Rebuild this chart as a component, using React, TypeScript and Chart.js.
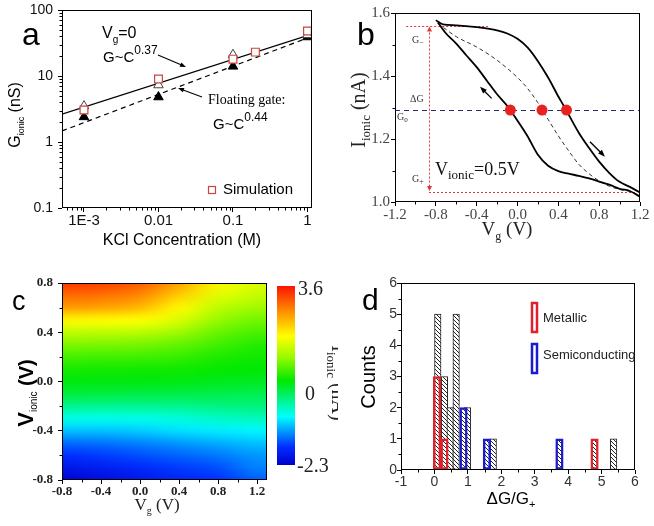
import React, { useEffect, useRef } from "react";
import { Chart, registerables } from "chart.js";
Chart.register(...registerables);

const SANS = '"Liberation Sans", Arial, Helvetica, sans-serif';
const SERIF = '"Liberation Serif", "Times New Roman", Times, serif';

// ---------------- Panel a : G_ionic vs KCl concentration ----------------
const concTicks = [0.001, 0.01, 0.1, 1];
const concTickLabels = ["1E-3", "0.01", "0.1", "1"];
const gTicks = [0.1, 1, 10, 100];
const gTickLabels = ["0.1", "1", "10", "100"];
const concMeasured = [0.001, 0.01, 0.1, 1];
const gVg0 = [3.5, 7.3, 21, 42];
const gFloatingGate = [2.4, 4.8, 14, 39];
const concSimulation = [0.001, 0.01, 0.1, 0.2, 1];
const gSimulation = [3.05, 9.0, 18, 23, 48];
const concFit = [0.000507, 1.15];
const gFitVg0 = [2.65, 43];
const gFitFloating = [1.47, 40];

// ---------------- Panel b : I_ionic vs Vg hysteresis ----------------
const vgTicksB = [-1.2, -0.8, -0.4, 0, 0.4, 0.8, 1.2];
const vgTickLabelsB = ["-1.2", "-0.8", "-0.4", "0.0", "0.4", "0.8", "1.2"];
const iTicksB = [1.0, 1.2, 1.4, 1.6];
const iTickLabelsB = ["1.0", "1.2", "1.4", "1.6"];
const vgForward = [-0.8, -0.73, -0.6, -0.4, -0.2, -0.1, 0.0, 0.1, 0.2, 0.3, 0.4, 0.45, 0.5, 0.6, 0.7, 0.8, 0.9, 1.0, 1.1, 1.2];
const iForward = [1.577, 1.564, 1.561, 1.555, 1.545, 1.535, 1.518, 1.49, 1.447, 1.395, 1.335, 1.307, 1.278, 1.22, 1.172, 1.128, 1.092, 1.064, 1.048, 1.03];
const vgBackward = [-0.78, -0.7, -0.6, -0.5, -0.4, -0.3, -0.2, -0.1, 0.0, 0.1, 0.2, 0.3, 0.4, 0.5, 0.6, 0.7, 0.8, 0.9, 1.0, 1.1, 1.2];
const iBackward = [1.57, 1.535, 1.503, 1.465, 1.428, 1.385, 1.342, 1.305, 1.258, 1.208, 1.15, 1.115, 1.098, 1.09, 1.083, 1.075, 1.065, 1.055, 1.042, 1.035, 1.017];
const vgMean = [-0.78, -0.6, -0.4, -0.2, 0.0, 0.1, 0.2, 0.3, 0.4, 0.5, 0.6, 0.7, 0.8, 0.9, 1.0, 1.1];
const iMean = [1.567, 1.525, 1.492, 1.45, 1.395, 1.36, 1.315, 1.262, 1.21, 1.163, 1.12, 1.09, 1.067, 1.05, 1.04, 1.034];
const vgCrossings = [-0.07, 0.24, 0.48];
const iG0 = 1.292;
const iGminus = 1.56;
const iGplus = 1.032;
const vgMarker = -0.867;
const gMinusSpan = [-1.09, -0.29];
const gPlusSpan = [-0.867, 1.17];
const arrowBack = [[-0.253, 1.329], [-0.367, 1.366]];
const arrowFwd = [[0.71, 1.191], [0.857, 1.144]];

// ---------------- Panel c : I_ionic map ----------------
const vgTicksC = [-0.8, -0.4, 0, 0.4, 0.8, 1.2];
const vgTickLabelsC = ["-0.8", "-0.4", "0.0", "0.4", "0.8", "1.2"];
const vionicTicks = [-0.8, -0.4, 0, 0.4, 0.8];
const vionicTickLabels = ["-0.8", "-0.4", "0.0", "0.4", "0.8"];
const vgGrid = [-0.8, -0.4, 0.0, 0.4, 0.8, 1.2];
const vionicGrid = [0.8, 0.7, 0.6, 0.5, 0.4, 0.3, 0.2, 0.1, 0.0, -0.1, -0.2, -0.3, -0.4, -0.5, -0.6, -0.7, -0.8];
const ionicCurrent = [
  [3.36, 3.3, 3.1, 2.6, 2.0, 1.7],
  [3.01, 2.95, 2.8, 2.3, 1.75, 1.55],
  [2.66, 2.6, 2.45, 2.0, 1.5, 1.3],
  [2.01, 1.98, 1.95, 1.7, 1.25, 1.05],
  [1.54, 1.5, 1.48, 1.3, 1.0, 0.85],
  [1.12, 1.1, 1.08, 0.98, 0.8, 0.65],
  [0.83, 0.8, 0.8, 0.75, 0.62, 0.55],
  [0.59, 0.57, 0.56, 0.55, 0.5, 0.45],
  [0.41, 0.4, 0.4, 0.38, 0.35, 0.32],
  [0.18, 0.17, 0.15, 0.15, 0.12, 0.1],
  [-0.18, -0.2, -0.2, -0.18, -0.12, -0.1],
  [-0.59, -0.62, -0.6, -0.55, -0.45, -0.4],
  [-1.0, -1.0, -0.95, -0.85, -0.8, -0.75],
  [-1.42, -1.38, -1.3, -1.2, -1.1, -1.0],
  [-1.71, -1.65, -1.55, -1.45, -1.35, -1.2],
  [-2.0, -1.9, -1.78, -1.65, -1.55, -1.3],
  [-2.24, -2.1, -1.95, -1.8, -1.7, -1.45],
];
const cbarMin = -2.3;
const cbarMax = 3.6;
const cbarLabels = ["3.6", "0", "-2.3"];

// ---------------- Panel d : histogram ----------------
const ratioTicks = [-1, 0, 1, 2, 3, 4, 5, 6];
const countTicks = [0, 1, 2, 3, 4, 5, 6];
const allRatio = [0.1, 0.3, 0.47, 0.65, 0.99, 1.76, 5.36];
const allCounts = [5, 3, 2, 5, 2, 1, 1];
const metallicRatio = [0.08, 0.3, 4.79];
const metallicCounts = [3, 1, 1];
const semiRatio = [0.87, 1.57, 3.74];
const semiCounts = [2, 1, 1];

// ---------------- helpers ----------------
const CMAP: number[][] = [
  [0, 0, 0, 205],
  [0.1, 0, 45, 255],
  [0.27, 0, 255, 255],
  [0.47, 0, 232, 0],
  [0.6, 150, 250, 0],
  [0.72, 255, 255, 0],
  [0.86, 255, 140, 0],
  [1, 250, 20, 0],
];
function cmap(f: number): number[] {
  f = Math.max(0, Math.min(1, f));
  for (let i = 1; i < CMAP.length; i++) {
    if (f <= CMAP[i][0]) {
      const a = CMAP[i - 1], b = CMAP[i];
      const t = (f - a[0]) / (b[0] - a[0]);
      return [a[1] + (b[1] - a[1]) * t, a[2] + (b[2] - a[2]) * t, a[3] + (b[3] - a[3]) * t];
    }
  }
  return CMAP[CMAP.length - 1].slice(1);
}

type Run = { t: string; s: number; dy?: number; w?: string };
function rich(ctx: any, x: number, y: number, runs: Run[], fam: string, align = "left", color = "#000") {
  const font = (r: Run) => `${r.w || "normal"} ${r.s}px ${fam}`;
  let total = 0;
  for (const r of runs) { ctx.font = font(r); total += ctx.measureText(r.t).width; }
  let cx = align === "center" ? x - total / 2 : align === "right" ? x - total : x;
  ctx.save();
  ctx.fillStyle = color; ctx.textAlign = "left"; ctx.textBaseline = "alphabetic";
  for (const r of runs) { ctx.font = font(r); ctx.fillText(r.t, cx, y + (r.dy || 0)); cx += ctx.measureText(r.t).width; }
  ctx.restore();
}
function richRot(ctx: any, x: number, y: number, ang: number, runs: Run[], fam: string, color = "#000") {
  ctx.save(); ctx.translate(x, y); ctx.rotate(ang); rich(ctx, 0, 0, runs, fam, "center", color); ctx.restore();
}
function arrow(ctx: any, x1: number, y1: number, x2: number, y2: number, head = 7, color = "#000", lw = 1.1) {
  const ang = Math.atan2(y2 - y1, x2 - x1);
  const c = Math.cos(ang), s = Math.sin(ang);
  ctx.save();
  ctx.strokeStyle = color; ctx.fillStyle = color; ctx.lineWidth = lw; ctx.setLineDash([]);
  ctx.beginPath(); ctx.moveTo(x1, y1); ctx.lineTo(x2 - c * head * 0.8, y2 - s * head * 0.8); ctx.stroke();
  ctx.beginPath(); ctx.moveTo(x2, y2);
  ctx.lineTo(x2 - head * c + head * 0.38 * s, y2 - head * s - head * 0.38 * c);
  ctx.lineTo(x2 - head * c - head * 0.38 * s, y2 - head * s + head * 0.38 * c);
  ctx.closePath(); ctx.fill();
  ctx.restore();
}
function frame(ctx: any, a: any) {
  ctx.save(); ctx.strokeStyle = "#000"; ctx.lineWidth = 1; ctx.setLineDash([]);
  ctx.strokeRect(Math.round(a.left) + 0.5, Math.round(a.top) + 0.5, Math.round(a.right - a.left) - 1, Math.round(a.bottom - a.top) - 1);
  ctx.restore();
}
function minorTicks(chart: any, axis: string, values: number[], len = 2.5) {
  const ctx = chart.ctx, a = chart.chartArea, s = chart.scales[axis];
  ctx.save(); ctx.strokeStyle = "#000"; ctx.lineWidth = 1; ctx.beginPath();
  for (const v of values) {
    if (axis === "x") {
      const p = Math.round(s.getPixelForValue(v)) + 0.5;
      ctx.moveTo(p, a.bottom); ctx.lineTo(p, a.bottom + len);
    } else {
      const p = Math.round(s.getPixelForValue(v)) + 0.5;
      ctx.moveTo(a.left, p); ctx.lineTo(a.left - len, p);
    }
  }
  ctx.stroke(); ctx.restore();
}
function makeAxis(o: any) {
  return {
    type: o.type || "linear",
    position: o.position,
    min: o.min,
    max: o.max,
    offset: false,
    afterBuildTicks: (s: any) => { s.ticks = o.ticks.map((v: number) => ({ value: v })); },
    afterFit: (s: any) => {
      if (o.position === "left") s.width = o.size; else s.height = o.size;
      s.paddingLeft = 0; s.paddingRight = 0; s.paddingTop = 0; s.paddingBottom = 0;
    },
    grid: { drawOnChartArea: false, drawTicks: true, tickLength: o.tickLen ?? 4, color: "#000", lineWidth: 1, offset: false },
    border: { display: false },
    title: { display: false },
    ticks: {
      autoSkip: false, maxRotation: 0, minRotation: 0, padding: o.pad ?? 0,
      color: o.color || "#000", font: { family: o.family, size: o.fontSize, weight: o.weight || "normal" },
      callback: (_v: any, i: number) => o.labels[i],
    },
  };
}
function baseOptions(top: number, right: number, scales: any) {
  return {
    responsive: false, maintainAspectRatio: false, animation: false, devicePixelRatio: 1, events: [],
    layout: { padding: { top, right, left: 0, bottom: 0 } },
    plugins: { legend: { display: false }, tooltip: { enabled: false }, title: { display: false } },
    scales,
  };
}
function hatch(color: string) {
  const c = document.createElement("canvas"); c.width = 4; c.height = 4;
  const g = c.getContext("2d")!;
  g.fillStyle = "#fff"; g.fillRect(0, 0, 4, 4);
  g.strokeStyle = color; g.lineWidth = 1;
  g.beginPath(); g.moveTo(-1, -1); g.lineTo(5, 5); g.moveTo(-1, 3); g.lineTo(1, 5); g.moveTo(3, -1); g.lineTo(5, 1); g.stroke();
  return g.createPattern(c, "repeat");
}
const pts = (xs: number[], ys: number[]) => xs.map((x, i) => ({ x, y: ys[i] }));

// ---------------- chart configs ----------------
function configA(): any {
  const minorX: number[] = [];
  [1e-4, 1e-3, 1e-2, 1e-1].forEach((d) => { for (let k = 2; k <= 9; k++) if (k * d > concFit[0] && k * d < 1.15) minorX.push(k * d); });
  const minorY: number[] = [];
  [0.1, 1, 10].forEach((d) => { for (let k = 2; k <= 9; k++) minorY.push(k * d); });
  return {
    type: "scatter",
    data: {
      datasets: [
        { data: pts(concSimulation, gSimulation), pointStyle: "rect", pointRadius: 5.5, backgroundColor: "#fff", borderColor: "#c8463f", borderWidth: 1.2 },
        { data: pts(concMeasured, gVg0), pointStyle: "triangle", pointRadius: 5.5, backgroundColor: "#fff", borderColor: "#444", borderWidth: 1 },
        { data: pts(concMeasured, gFloatingGate), pointStyle: "triangle", pointRadius: 5.5, backgroundColor: "#000", borderColor: "#000", borderWidth: 1 },
        { data: pts(concFit, gFitVg0), showLine: true, pointRadius: 0, borderColor: "#000", borderWidth: 1.2 },
        { data: pts(concFit, gFitFloating), showLine: true, pointRadius: 0, borderColor: "#000", borderWidth: 1.2, borderDash: [5, 4] },
      ],
    },
    options: baseOptions(10, 18, {
      x: makeAxis({ type: "logarithmic", position: "bottom", min: concFit[0], max: concFit[1], ticks: concTicks, labels: concTickLabels, size: 52, family: SANS, fontSize: 15, color: "#111" }),
      y: makeAxis({ type: "logarithmic", position: "left", min: 0.1, max: 100, ticks: gTicks, labels: gTickLabels, size: 62, family: SANS, fontSize: 14, color: "#111", pad: 5 }),
    }),
    plugins: [{
      id: "decoA",
      afterDraw(chart: any) {
        const ctx = chart.ctx;
        frame(ctx, chart.chartArea);
        minorTicks(chart, "x", minorX);
        minorTicks(chart, "y", minorY);
        rich(ctx, 22, 45, [{ t: "a", s: 32 }], SANS);
        rich(ctx, 102, 38, [{ t: "V", s: 16 }, { t: "g", s: 10, dy: 5 }, { t: "=0", s: 16 }], SANS);
        rich(ctx, 103, 62, [{ t: "G~C", s: 15 }, { t: "0.37", s: 12, dy: -8 }], SANS);
        arrow(ctx, 158, 55, 186, 67, 6);
        rich(ctx, 208, 104, [{ t: "Floating gate:", s: 14 }], SERIF);
        arrow(ctx, 202, 97, 178, 88, 6);
        rich(ctx, 213, 129, [{ t: "G~C", s: 15 }, { t: "0.44", s: 12, dy: -8 }], SANS);
        ctx.save(); ctx.strokeStyle = "#c8463f"; ctx.lineWidth = 1.2; ctx.strokeRect(208.5, 186.5, 7, 7); ctx.restore();
        rich(ctx, 223, 194, [{ t: "Simulation", s: 15 }], SANS);
        rich(ctx, 182, 245, [{ t: "KCl Concentration (M)", s: 16 }], SANS, "center");
        richRot(ctx, 20, 115, -Math.PI / 2, [{ t: "G", s: 16 }, { t: "ionic", s: 9, dy: 4 }, { t: " (nS)", s: 16 }], SANS);
      },
    }],
  };
}

function configB(): any {
  return {
    type: "scatter",
    data: {
      datasets: [
        { data: vgCrossings.map((x) => ({ x, y: iG0 })), pointRadius: 5.5, backgroundColor: "#e8231f", borderColor: "#e8231f", borderWidth: 0 },
        { data: pts(vgForward, iForward), showLine: true, pointRadius: 0, borderColor: "#000", borderWidth: 1.8, cubicInterpolationMode: "monotone" },
        { data: pts(vgBackward, iBackward), showLine: true, pointRadius: 0, borderColor: "#000", borderWidth: 1.8, cubicInterpolationMode: "monotone" },
        { data: pts(vgMean, iMean), showLine: true, pointRadius: 0, borderColor: "#333", borderWidth: 1, borderDash: [4, 3], cubicInterpolationMode: "monotone" },
      ],
    },
    options: baseOptions(13, 14, {
      x: makeAxis({ position: "bottom", min: -1.2, max: 1.2, ticks: vgTicksB, labels: vgTickLabelsB, size: 58, family: SERIF, fontSize: 15, color: "#444" }),
      y: makeAxis({ position: "left", min: 1.0, max: 1.6, ticks: iTicksB, labels: iTickLabelsB, size: 65, family: SERIF, fontSize: 15, color: "#444", pad: 1 }),
    }),
    plugins: [{
      id: "decoB",
      beforeDatasetsDraw(chart: any) {
        const ctx = chart.ctx, a = chart.chartArea, xs = chart.scales.x, ys = chart.scales.y;
        const X = (v: number) => xs.getPixelForValue(v), Y = (v: number) => ys.getPixelForValue(v);
        ctx.save();
        ctx.lineWidth = 1;
        ctx.strokeStyle = "#2a2a6a"; ctx.setLineDash([5, 4]);
        ctx.beginPath(); ctx.moveTo(a.left, Math.round(Y(iG0)) + 0.5); ctx.lineTo(a.right, Math.round(Y(iG0)) + 0.5); ctx.stroke();
        ctx.strokeStyle = "#e03535"; ctx.setLineDash([2, 2]);
        ctx.beginPath();
        ctx.moveTo(Math.round(X(vgMarker)) + 0.5, Y(iGminus) + 3); ctx.lineTo(Math.round(X(vgMarker)) + 0.5, Y(iGplus) - 3);
        ctx.moveTo(X(gMinusSpan[0]), Math.round(Y(iGminus)) + 0.5); ctx.lineTo(X(gMinusSpan[1]), Math.round(Y(iGminus)) + 0.5);
        ctx.moveTo(X(gPlusSpan[0]), Math.round(Y(iGplus)) + 0.5); ctx.lineTo(X(gPlusSpan[1]), Math.round(Y(iGplus)) + 0.5);
        ctx.stroke();
        ctx.setLineDash([]);
        ctx.fillStyle = "#e03535";
        const mx = Math.round(X(vgMarker)) + 0.5;
        ctx.beginPath(); ctx.moveTo(mx, Y(iGminus) + 1); ctx.lineTo(mx - 2.5, Y(iGminus) + 6); ctx.lineTo(mx + 2.5, Y(iGminus) + 6); ctx.closePath(); ctx.fill();
        ctx.beginPath(); ctx.moveTo(mx, Y(iGplus) - 1); ctx.lineTo(mx - 2.5, Y(iGplus) - 6); ctx.lineTo(mx + 2.5, Y(iGplus) - 6); ctx.closePath(); ctx.fill();
        ctx.restore();
      },
      afterDraw(chart: any) {
        const ctx = chart.ctx, xs = chart.scales.x, ys = chart.scales.y;
        const X = (v: number) => xs.getPixelForValue(v), Y = (v: number) => ys.getPixelForValue(v);
        frame(ctx, chart.chartArea);
        minorTicks(chart, "x", [-1.0, -0.6, -0.2, 0.2, 0.6, 1.0]);
        minorTicks(chart, "y", [1.1, 1.3, 1.5]);
        arrow(ctx, X(arrowBack[0][0]), Y(arrowBack[0][1]), X(arrowBack[1][0]), Y(arrowBack[1][1]), 7, "#000", 1.3);
        arrow(ctx, X(arrowFwd[0][0]), Y(arrowFwd[0][1]), X(arrowFwd[1][0]), Y(arrowFwd[1][1]), 7, "#000", 1.3);
        rich(ctx, 27, 45, [{ t: "b", s: 32 }], SANS);
        rich(ctx, 82, 43, [{ t: "G", s: 10 }, { t: "\u2212", s: 8, dy: 2 }], SERIF, "left", "#333");
        rich(ctx, 80, 102, [{ t: "\u0394G", s: 10 }], SERIF, "left", "#333");
        rich(ctx, 67, 120, [{ t: "G", s: 10 }, { t: "0", s: 7, dy: 2 }], SERIF, "left", "#333");
        rich(ctx, 82, 182, [{ t: "G", s: 10 }, { t: "+", s: 8, dy: 2 }], SERIF, "left", "#333");
        rich(ctx, 105, 175, [{ t: "V", s: 18 }, { t: "ionic", s: 13, dy: 4 }, { t: "=0.5V", s: 18 }], SERIF, "left", "#111");
        rich(ctx, 177, 235, [{ t: "V", s: 19 }, { t: "g", s: 12, dy: 5 }, { t: " (V)", s: 19 }], SERIF, "center", "#222");
        richRot(ctx, 35, 110, -Math.PI / 2, [{ t: "I", s: 20 }, { t: "ionic", s: 13, dy: 5 }, { t: " (nA)", s: 20 }], SERIF, "#222");
      },
    }],
  };
}

function configC(): any {
  return {
    type: "scatter",
    data: { datasets: [{ data: [] }] },
    options: baseOptions(23, 71, {
      x: makeAxis({ position: "bottom", min: -0.8, max: 1.3, ticks: vgTicksC, labels: vgTickLabelsC, size: 46, family: SERIF, fontSize: 13, weight: "bold", color: "#222" }),
      y: makeAxis({ position: "left", min: -0.8, max: 0.8, ticks: vionicTicks, labels: vionicTickLabels, size: 62, family: SERIF, fontSize: 13, weight: "bold", color: "#222", pad: 5 }),
    }),
    plugins: [{
      id: "decoC",
      beforeDatasetsDraw(chart: any) {
        const ctx = chart.ctx, a = chart.chartArea, xs = chart.scales.x, ys = chart.scales.y;
        const cols = vgGrid.length, rows = vionicGrid.length;
        const off = document.createElement("canvas"); off.width = cols; off.height = rows;
        const octx = off.getContext("2d")!;
        const img = octx.createImageData(cols, rows);
        for (let r = 0; r < rows; r++) for (let c = 0; c < cols; c++) {
          const col = cmap((ionicCurrent[r][c] - cbarMin) / (cbarMax - cbarMin));
          const k = (r * cols + c) * 4;
          img.data[k] = col[0]; img.data[k + 1] = col[1]; img.data[k + 2] = col[2]; img.data[k + 3] = 255;
        }
        octx.putImageData(img, 0, 0);
        const dx = vgGrid[1] - vgGrid[0], dy = vionicGrid[0] - vionicGrid[1];
        const x0 = xs.getPixelForValue(vgGrid[0] - dx / 2), x1 = xs.getPixelForValue(vgGrid[cols - 1] + dx / 2);
        const y0 = ys.getPixelForValue(vionicGrid[0] + dy / 2), y1 = ys.getPixelForValue(vionicGrid[rows - 1] - dy / 2);
        ctx.save();
        ctx.beginPath(); ctx.rect(a.left, a.top, a.right - a.left, a.bottom - a.top); ctx.clip();
        ctx.imageSmoothingEnabled = true; (ctx as any).imageSmoothingQuality = "high";
        ctx.drawImage(off, x0, y0, x1 - x0, y1 - y0);
        ctx.restore();
      },
      afterDraw(chart: any) {
        const ctx = chart.ctx;
        frame(ctx, chart.chartArea);
        minorTicks(chart, "x", [-0.6, -0.2, 0.2, 0.6, 1.0]);
        minorTicks(chart, "y", [-0.6, -0.2, 0.2, 0.6]);
        // colour bar
        const cx = 277, cw = 18, ct = 26, cb = 205;
        const grad = ctx.createLinearGradient(0, cb, 0, ct);
        CMAP.forEach((s) => grad.addColorStop(s[0], `rgb(${s[1]},${s[2]},${s[3]})`));
        ctx.save(); ctx.fillStyle = grad; ctx.fillRect(cx, ct, cw, cb - ct); ctx.restore();
        const yOf = (v: number) => cb - (v - cbarMin) / (cbarMax - cbarMin) * (cb - ct);
        rich(ctx, 298, yOf(3.6) + 9, [{ t: cbarLabels[0], s: 20 }], SERIF, "left", "#222");
        rich(ctx, 305, yOf(0) + 5, [{ t: cbarLabels[1], s: 20 }], SERIF, "left", "#222");
        rich(ctx, 297, yOf(-2.3) + 7, [{ t: cbarLabels[2], s: 20 }], SERIF, "left", "#222");
        richRot(ctx, 332, 123, Math.PI / 2, [{ t: "I", s: 20 }, { t: "ionic", s: 13, dy: 5 }, { t: " (nA)", s: 20 }], SERIF, "#222");
        rich(ctx, 12, 50, [{ t: "c", s: 27 }], SANS);
        richRot(ctx, 33, 133, -Math.PI / 2, [{ t: "V", s: 22, w: "bold" }, { t: "ionic", s: 10, dy: 4 }, { t: " (V)", s: 20, w: "bold" }], SANS);
        rich(ctx, 157, 250, [{ t: "V", s: 17 }, { t: "g", s: 10, dy: 4 }, { t: " (V)", s: 17 }], SERIF, "center", "#222");
      },
    }],
  };
}

function configD(): any {
  const hk = hatch("#222");
  const minorX = [-0.5, 0.5, 1.5, 2.5, 3.5, 4.5, 5.5];
  const minorY = [0.5, 1.5, 2.5, 3.5, 4.5, 5.5];
  return {
    type: "bar",
    data: {
      datasets: [
        { data: pts(metallicRatio, metallicCounts), backgroundColor: hk, borderColor: "#e0202a", borderWidth: 2.5, barThickness: 7.5, grouped: false, borderSkipped: false },
        { data: pts(semiRatio, semiCounts), backgroundColor: hk, borderColor: "#1a1ad0", borderWidth: 2.5, barThickness: 7.5, grouped: false, borderSkipped: false },
        { data: pts(allRatio, allCounts), backgroundColor: hk, borderColor: "#222", borderWidth: 1, barThickness: 6.5, grouped: false, borderSkipped: false },
      ],
    },
    options: baseOptions(23, 19, {
      x: makeAxis({ position: "bottom", min: -1, max: 6, ticks: ratioTicks, labels: ratioTicks.map(String), size: 56, family: SANS, fontSize: 14, color: "#333" }),
      y: makeAxis({ position: "left", min: 0, max: 6, ticks: countTicks, labels: countTicks.map(String), size: 63, family: SANS, fontSize: 14, color: "#333", pad: 0 }),
    }),
    plugins: [{
      id: "decoD",
      afterDraw(chart: any) {
        const ctx = chart.ctx;
        frame(ctx, chart.chartArea);
        minorTicks(chart, "x", minorX);
        minorTicks(chart, "y", minorY);
        rich(ctx, 24, 50, [{ t: "d", s: 30 }], SANS);
        richRot(ctx, 37, 117, -Math.PI / 2, [{ t: "Counts", s: 20 }], SANS);
        rich(ctx, 173, 244, [{ t: "\u0394G/G", s: 17 }, { t: "+", s: 11, dy: 4 }], SANS, "center");
        ctx.save(); ctx.lineWidth = 2.5;
        ctx.strokeStyle = "#e0202a"; ctx.strokeRect(194, 43, 5, 29);
        ctx.strokeStyle = "#1a1ad0"; ctx.strokeRect(194, 84, 5, 29);
        ctx.restore();
        rich(ctx, 205, 62, [{ t: "Metallic", s: 13 }], SANS, "left", "#222");
        rich(ctx, 205, 99, [{ t: "Semiconducting", s: 13 }], SANS, "left", "#222");
      },
    }],
  };
}

function Panel({ left, top, width, height, make }: { left: number; top: number; width: number; height: number; make: () => any }) {
  const ref = useRef<HTMLCanvasElement>(null);
  useEffect(() => {
    const chart = new Chart(ref.current!, make());
    return () => chart.destroy();
  }, []);
  return <canvas ref={ref} width={width} height={height} style={{ position: "absolute", left, top, width, height }} />;
}

export default function App() {
  return (
    <div style={{ position: "absolute", left: 0, top: 0, width: 654, height: 526, background: "#fff", overflow: "hidden" }}>
      <Panel left={0} top={0} width={330} height={260} make={configA} />
      <Panel left={330} top={0} width={324} height={260} make={configB} />
      <Panel left={0} top={260} width={338} height={266} make={configC} />
      <Panel left={338} top={260} width={316} height={266} make={configD} />
    </div>
  );
}
